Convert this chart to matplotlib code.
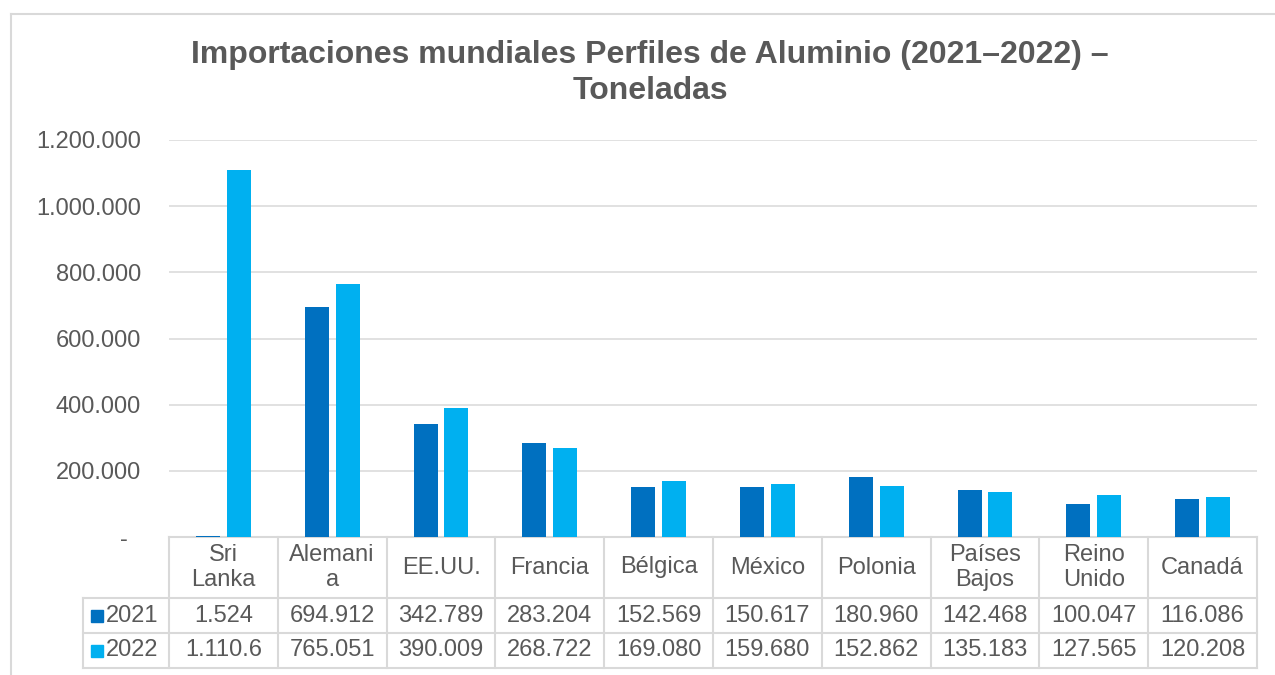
import numpy as np
import matplotlib
matplotlib.use('Agg')
import matplotlib.pyplot as plt
from matplotlib.ticker import FuncFormatter
from matplotlib.transforms import blended_transform_factory
from matplotlib.patches import Rectangle
from matplotlib.lines import Line2D

plt.rcParams['font.family'] = ['Liberation Sans', 'DejaVu Sans']

# --- DATOS ---
TITULO = 'Importaciones mundiales Perfiles de Aluminio (2021–2022) –\nToneladas'
paises = ['Sri\nLanka', 'Alemani\na', 'EE.UU.', 'Francia', 'Bélgica', 'México',
          'Polonia', 'Países\nBajos', 'Reino\nUnido', 'Canadá']
anios = ['2021', '2022']
ton_2021 = [1524, 694912, 342789, 283204, 152569, 150617, 180960, 142468, 100047, 116086]
ton_2022 = [1110600, 765051, 390009, 268722, 169080, 159680, 152862, 135183, 127565, 120208]

COLORES = ['#0070C0', '#00B0F0']
GRIS = '#595959'
LINEA = '#D9D9D9'

W, H = 1275, 675


def fx(px):
    return px / W


def fy(py):
    return 1 - py / H


def miles(v):
    return f'{int(round(v)):,}'.replace(',', '.')


def celda(v):
    # la celda solo da para 7 caracteres, el resto se corta
    return miles(v)[:7]


fig = plt.figure(figsize=(W / 100, H / 100), dpi=100)
ax = fig.add_axes([fx(169), fy(537), fx(1257) - fx(169), fy(140) - fy(537)])

n = len(paises)
x = np.arange(n)
ancho = 0.22
ax.bar(x - 0.142, ton_2021, ancho, color=COLORES[0], zorder=3)
ax.bar(x + 0.142, ton_2022, ancho, color=COLORES[1], zorder=3)

ax.set_xlim(-0.5, n - 0.5)
ax.set_ylim(0, 1_200_000)
ax.set_yticks(np.arange(0, 1_200_001, 200_000))
ax.yaxis.set_major_formatter(FuncFormatter(lambda v, p: '-  ' if v == 0 else miles(v)))
ax.tick_params(axis='y', length=0, pad=20, labelsize=17, labelcolor=GRIS)
ax.set_xticks([])
for s in ax.spines.values():
    s.set_visible(False)
ax.grid(axis='y', color=LINEA, linewidth=1.1, zorder=0)

# --- TABLA DE DATOS BAJO EL EJE ---
tr = blended_transform_factory(ax.transData, fig.transFigure)
filas_px = [537, 598, 633, 668]
x_etiq = -0.5 - (169 - 83) / 108.8   # borde izquierdo de la columna de años

ax.plot([-0.5, n - 0.5], [fy(537)] * 2, color=LINEA, lw=1.5, transform=tr, clip_on=False)
for yp in filas_px[1:]:
    ax.plot([x_etiq, n - 0.5], [fy(yp)] * 2, color=LINEA, lw=1.5, transform=tr, clip_on=False)
for i in range(n + 1):
    ax.plot([i - 0.5] * 2, [fy(537), fy(668)], color=LINEA, lw=1.5, transform=tr, clip_on=False)
ax.plot([x_etiq] * 2, [fy(598), fy(668)], color=LINEA, lw=1.5, transform=tr, clip_on=False)

for i, p in enumerate(paises):
    ax.text(i, fy(567.5), p, transform=tr, ha='center', va='center', fontsize=17,
            color=GRIS, linespacing=1.2, clip_on=False)

for serie, valores, color, yc in [(anios[0], ton_2021, COLORES[0], 615.5),
                                   (anios[1], ton_2022, COLORES[1], 650.5)]:
    for i, v in enumerate(valores):
        ax.text(i, fy(yc), celda(v), transform=tr, ha='center', va='center',
                fontsize=17, color=GRIS, clip_on=False)
    fig.add_artist(Rectangle((fx(91), fy(yc + 6)), fx(12), 12 / H,
                             transform=fig.transFigure, color=color))
    fig.text(fx(106), fy(yc), serie, ha='left', va='center', fontsize=17, color=GRIS)

# --- TÍTULO Y MARCO ---
fig.text(fx(650), fy(73), TITULO, ha='center', va='center', fontsize=23,
         fontweight='bold', color=GRIS, linespacing=1.22)

fig.add_artist(Line2D([fx(11), 1], [fy(14), fy(14)], transform=fig.transFigure,
                      color=LINEA, lw=1.5))
fig.add_artist(Line2D([fx(11), fx(11)], [fy(14), 0], transform=fig.transFigure,
                      color=LINEA, lw=1.5))

fig.savefig('out.png', dpi=100, facecolor='white')
